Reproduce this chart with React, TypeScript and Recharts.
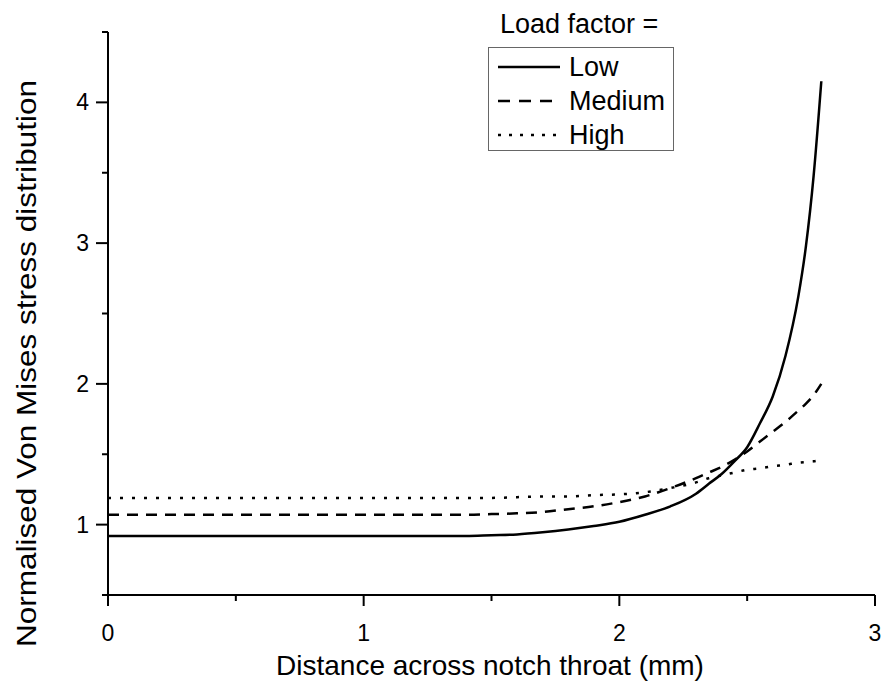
import { LineChart, Line, XAxis, YAxis, Legend, Label } from 'recharts';

// distance across the notch throat (mm)
const distance = [0, 0.2, 0.4, 0.6, 0.8, 1.0, 1.2, 1.4, 1.5, 1.6, 1.7, 1.8, 1.9, 2.0, 2.1, 2.2, 2.3, 2.35, 2.4, 2.45, 2.5, 2.55, 2.6, 2.65, 2.7, 2.73, 2.76, 2.79];

// normalised von Mises stress for each load factor
const lowLoad = [0.92, 0.92, 0.92, 0.92, 0.92, 0.92, 0.92, 0.92, 0.925, 0.93, 0.945, 0.965, 0.99, 1.02, 1.07, 1.13, 1.22, 1.29, 1.36, 1.45, 1.55, 1.72, 1.91, 2.2, 2.62, 2.98, 3.48, 4.15];
const mediumLoad = [1.07, 1.07, 1.07, 1.07, 1.07, 1.07, 1.07, 1.07, 1.075, 1.08, 1.09, 1.11, 1.13, 1.16, 1.2, 1.26, 1.33, 1.37, 1.41, 1.46, 1.52, 1.59, 1.66, 1.73, 1.81, 1.86, 1.92, 2.0];
const highLoad = [1.19, 1.19, 1.19, 1.19, 1.19, 1.19, 1.19, 1.19, 1.19, 1.195, 1.2, 1.2, 1.21, 1.215, 1.23, 1.26, 1.3, 1.33, 1.35, 1.37, 1.39, 1.4, 1.415, 1.425, 1.44, 1.445, 1.45, 1.46];

const xTicks = [0, 0.5, 1, 1.5, 2, 2.5, 3];
const yTicks = [0.5, 1, 1.5, 2, 2.5, 3, 3.5, 4, 4.5];

const chartData = distance.map((d, i) => ({
  distance: d,
  low: lowLoad[i],
  medium: mediumLoad[i],
  high: highLoad[i],
}));

const series = [
  { key: 'low', name: 'Low', dash: undefined, legendDash: undefined },
  { key: 'medium', name: 'Medium', dash: '11 8', legendDash: '12 9' },
  { key: 'high', name: 'High', dash: '3 9', legendDash: '3 8' },
];

const FONT = '"Liberation Sans", Arial, Helvetica, sans-serif';
const X_TICK = 11;
const Y_TICK = 12;
const TICK_GAP = 6;

function XTick({ x, y, payload }: any) {
  const major = Number.isInteger(payload.value);
  const axisY = y - X_TICK - TICK_GAP;
  return (
    <g>
      <line x1={x} x2={x} y1={axisY} y2={axisY + (major ? X_TICK : 6)} stroke="#000" strokeWidth={2} />
      {major && (
        <text x={x} y={axisY + 46} textAnchor="middle" fontSize={23} fontFamily={FONT} fill="#000">
          {payload.value}
        </text>
      )}
    </g>
  );
}

function YTick({ x, y, payload }: any) {
  const major = Number.isInteger(payload.value);
  const axisX = x + Y_TICK + TICK_GAP;
  return (
    <g>
      <line x1={axisX - (major ? Y_TICK : 6)} x2={axisX} y1={y} y2={y} stroke="#000" strokeWidth={2} />
      {major && (
        <text x={axisX - 19} y={y + 8} textAnchor="end" fontSize={23} fontFamily={FONT} fill="#000">
          {payload.value}
        </text>
      )}
    </g>
  );
}

const renderLegend = (props: any) => {
  // keep the legend rows in series order: Low, Medium, High
  const entries = [...(props.payload || [])].sort(
    (a: any, b: any) =>
      series.findIndex((s) => s.key === a.dataKey) - series.findIndex((s) => s.key === b.dataKey),
  );
  return (
    <div style={{ position: 'relative', width: 200, height: 160, fontFamily: FONT, color: '#000' }}>
      <div style={{ position: 'absolute', left: 20, top: 11, fontSize: 27, lineHeight: '27px', whiteSpace: 'nowrap' }}>
        Load factor =
      </div>
      <div
        style={{
          position: 'absolute',
          left: 8,
          top: 47,
          width: 186,
          height: 104,
          boxSizing: 'border-box',
          border: '1.5px solid #666',
          paddingTop: 2,
        }}
      >
        {entries.map((entry: any) => {
          const s = series.find((item) => item.key === entry.dataKey) || series[0];
          return (
            <div key={s.key} style={{ display: 'flex', alignItems: 'center', height: 34 }}>
              <svg width={80} height={10} style={{ display: 'block' }}>
                <line x1={9} x2={71} y1={5} y2={5} stroke="#000" strokeWidth={2.5} strokeDasharray={s.legendDash} />
              </svg>
              <span style={{ fontSize: 27, lineHeight: '27px', whiteSpace: 'nowrap' }}>{entry.value}</span>
            </div>
          );
        })}
      </div>
    </div>
  );
};

export default function App() {
  return (
    <div style={{ position: 'absolute', left: 0, top: 0, width: 882, height: 687, background: '#fff' }}>
      <LineChart width={882} height={687} data={chartData} margin={{ top: 32, right: 7, bottom: 0, left: 0 }}>
        <XAxis
          dataKey="distance"
          type="number"
          domain={[0, 3]}
          ticks={xTicks}
          interval={0}
          height={92}
          tickSize={X_TICK}
          tickMargin={TICK_GAP}
          tickLine={false}
          tick={<XTick />}
          axisLine={{ stroke: '#000', strokeWidth: 2 }}
        >
          <Label
            content={() => (
              <text x={490} y={675} textAnchor="middle" fontSize={28} fontFamily={FONT} fill="#000">
                Distance across notch throat (mm)
              </text>
            )}
          />
        </XAxis>
        <YAxis
          type="number"
          domain={[0.5, 4.5]}
          ticks={yTicks}
          interval={0}
          width={108}
          allowDataOverflow
          tickSize={Y_TICK}
          tickMargin={TICK_GAP}
          tickLine={false}
          tick={<YTick />}
          axisLine={{ stroke: '#000', strokeWidth: 2 }}
        >
          <Label
            content={() => (
              <text
                transform="translate(36,363.5) rotate(-90)"
                textAnchor="middle"
                fontSize={28}
                fontFamily={FONT}
                fill="#000"
                textLength={567}
                lengthAdjust="spacingAndGlyphs"
              >
                Normalised Von Mises stress distribution
              </text>
            )}
          />
        </YAxis>
        <Legend
          layout="vertical"
          align="center"
          verticalAlign="middle"
          itemSorter={null}
          content={renderLegend}
          wrapperStyle={{ left: 480, top: 0, width: 200, height: 160 }}
        />
        {series.map((s) => (
          <Line
            key={s.key}
            type="monotone"
            dataKey={s.key}
            name={s.name}
            stroke="#000"
            strokeWidth={2.5}
            strokeDasharray={s.dash}
            dot={false}
            activeDot={false}
            isAnimationActive={false}
          />
        ))}
      </LineChart>
    </div>
  );
}
